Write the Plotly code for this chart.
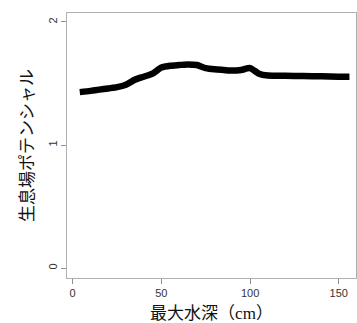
import plotly.graph_objects as go

depth_cm = [4, 10, 15, 20, 25, 30, 35, 40, 45, 50, 55, 60, 65, 70, 75, 80, 85, 90, 95, 100, 105, 110, 120, 130, 140, 150, 156]
habitat_potential = [1.43, 1.44, 1.45, 1.46, 1.47, 1.49, 1.53, 1.555, 1.58, 1.63, 1.645, 1.65, 1.655, 1.65, 1.625, 1.615, 1.61, 1.605, 1.61, 1.625, 1.58, 1.565, 1.562, 1.56, 1.558, 1.555, 1.555]

x_ticks = [0, 50, 100, 150]
y_ticks = [0, 1, 2]

fig = go.Figure()
fig.add_trace(go.Scatter(x=depth_cm, y=habitat_potential, mode="lines",
                         line=dict(color="black", width=6.5, shape="spline", smoothing=0.6),
                         showlegend=False, hoverinfo="skip"))

axis_common = dict(showline=True, mirror=True, linecolor="#b0b0b0", linewidth=1.2,
                   ticks="outside", tickcolor="#909090", ticklen=5, showgrid=False, zeroline=False,
                   tickfont=dict(family="Liberation Sans, Arial", size=11, color="#333333"))

fig.update_layout(
    width=357, height=323,
    margin=dict(l=67, r=1, t=13, b=45),
    paper_bgcolor="white", plot_bgcolor="white",
    xaxis=dict(range=[-3.2, 159.7], tickvals=x_ticks, ticktext=[str(v) for v in x_ticks],
               title=dict(text="最大水深（cm）", standoff=9,
                          font=dict(family="Liberation Serif, Noto Sans CJK JP", size=17, color="#111111")),
               **axis_common),
    yaxis=dict(range=[-0.081, 2.073], tickvals=y_ticks, ticktext=[str(v) for v in y_ticks], tickangle=-90,
               title=dict(text="生息場ポテンシャル", standoff=8,
                          font=dict(family="Noto Sans CJK JP", size=17, color="#111111")),
               **axis_common),
)

fig.write_html("out.html", config={"displayModeBar": False},
               post_script="document.body.style.margin='0';document.body.style.overflow='hidden';")
